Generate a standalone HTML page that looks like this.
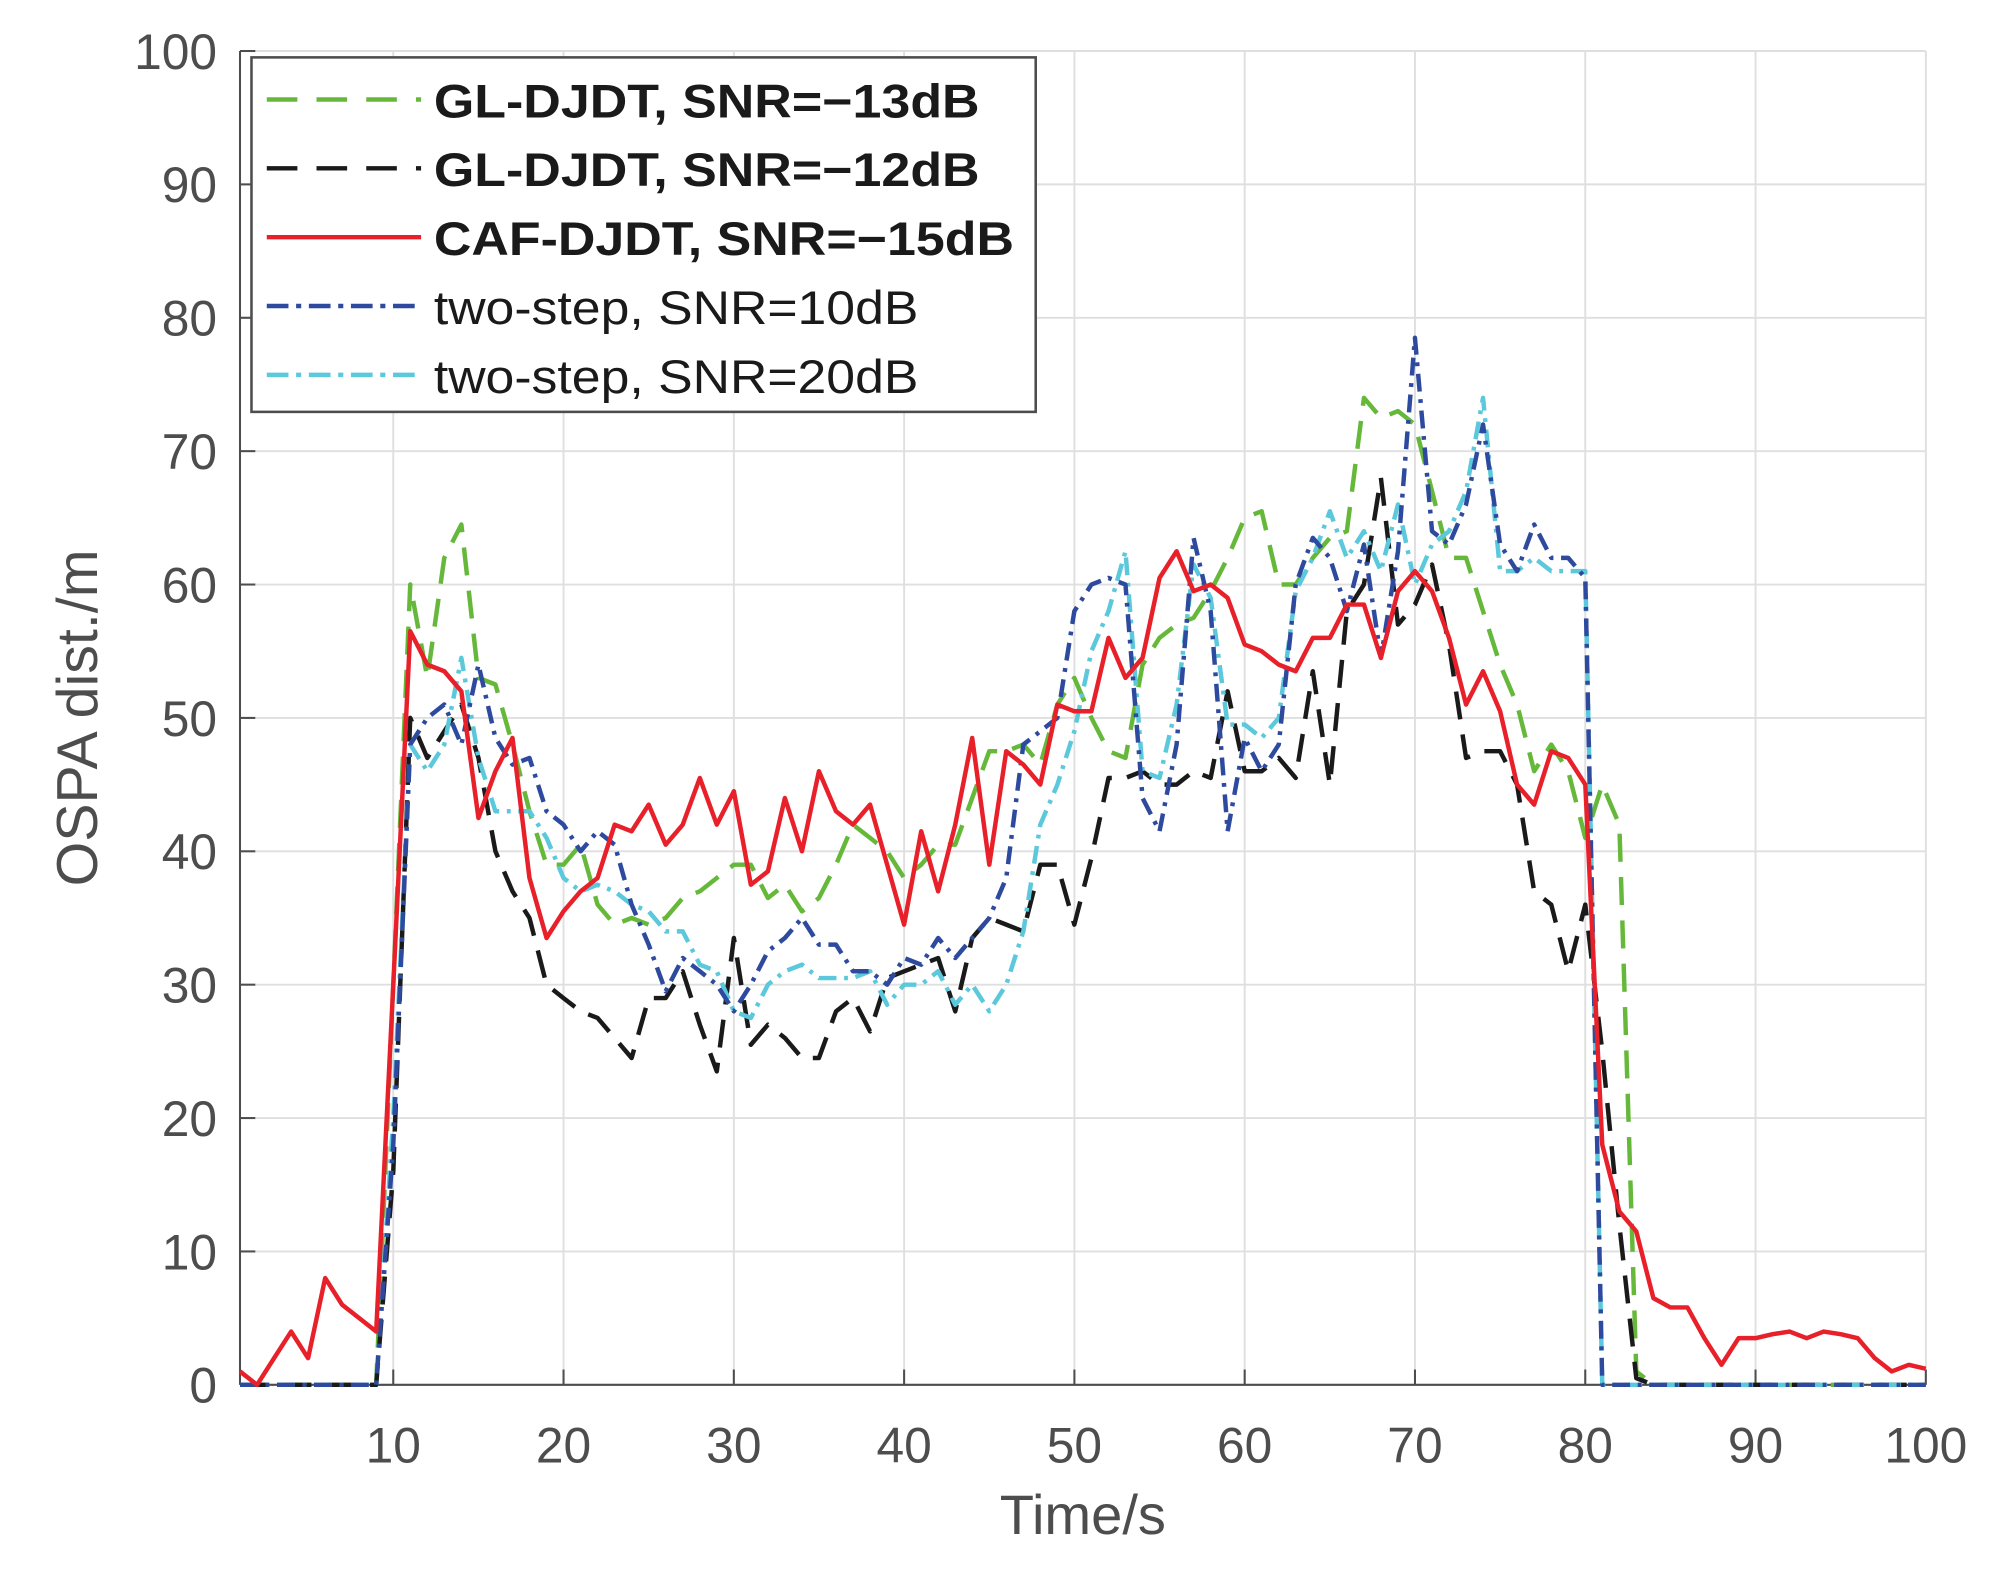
<!DOCTYPE html>
<html><head><meta charset="utf-8"><style>html,body{margin:0;padding:0;background:#fff}svg{display:block}</style></head>
<body>
<svg id="s" xmlns="http://www.w3.org/2000/svg" width="2000" height="1571" viewBox="0 0 1568 1232" font-family="Liberation Sans, sans-serif">
<rect x="0" y="0" width="1568" height="1232" fill="#fff"/>
<g id="grid" stroke="#dfdfdf" stroke-width="1.5"></g>
<g id="ticks" stroke="#4d4d4d" stroke-width="1.6"></g>
<line x1="188" y1="40" x2="188" y2="1086" stroke="#4d4d4d" stroke-width="1.6"/>
<line x1="188" y1="1086" x2="1510" y2="1086" stroke="#4d4d4d" stroke-width="1.6"/>
<g id="labels" fill="#4d4d4d" font-size="39"></g>
<g id="series" fill="none" stroke-width="3.5" stroke-linejoin="round"></g>
<text x="849" y="1203" font-size="44" fill="#4d4d4d" text-anchor="middle">Time/s</text>
<text transform="translate(76,563) rotate(-90)" font-size="45" fill="#4d4d4d" text-anchor="middle">OSPA dist./m</text>
<g>
<rect x="197" y="45" width="615" height="278" fill="#fff" stroke="#4d4d4d" stroke-width="2"/>
<line x1="209" y1="78" x2="330" y2="78" stroke="#66b83a" stroke-width="3.5" stroke-dasharray="24 15"/>
<line x1="209" y1="132" x2="330" y2="132" stroke="#1a1a1a" stroke-width="3.5" stroke-dasharray="24 15"/>
<line x1="209" y1="186" x2="330" y2="186" stroke="#e8202a" stroke-width="3.5"/>
<line x1="209" y1="240" x2="330" y2="240" stroke="#2e4a9e" stroke-width="3.5" stroke-dasharray="17 6 4 6"/>
<line x1="209" y1="294" x2="330" y2="294" stroke="#5bc8dc" stroke-width="3.5" stroke-dasharray="17 6 4 6"/>
<g font-size="37" fill="#1a1a1a">
<text x="340" y="92" font-weight="bold" textLength="428" lengthAdjust="spacingAndGlyphs">GL-DJDT, SNR=−13dB</text>
<text x="340" y="146" font-weight="bold" textLength="428" lengthAdjust="spacingAndGlyphs">GL-DJDT, SNR=−12dB</text>
<text x="340" y="200" font-weight="bold" textLength="455" lengthAdjust="spacingAndGlyphs">CAF-DJDT, SNR=−15dB</text>
<text x="340" y="254" textLength="380" lengthAdjust="spacingAndGlyphs">two-step, SNR=10dB</text>
<text x="340" y="308" textLength="380" lengthAdjust="spacingAndGlyphs">two-step, SNR=20dB</text>
</g>
</g>
</svg>
<script>
var NS="http://www.w3.org/2000/svg";
function X(t){return 188+(t-1)*13.354;}
function Y(v){return 1086-v*10.46;}
function el(p,tag,a,txt){var e=document.createElementNS(NS,tag);for(var k in a)e.setAttribute(k,a[k]);if(txt!==undefined)e.textContent=txt;document.getElementById(p).appendChild(e);}
for(var t=10;t<=100;t+=10){el('grid','line',{x1:X(t),x2:X(t),y1:40,y2:1086});el('ticks','line',{x1:X(t),x2:X(t),y1:1086,y2:1074});el('labels','text',{x:X(t),y:1147,'text-anchor':'middle'},t);}
for(var v=0;v<=100;v+=10){el('grid','line',{x1:188,x2:1510,y1:Y(v),y2:Y(v)});el('ticks','line',{x1:188,x2:200,y1:Y(v),y2:Y(v)});el('labels','text',{x:170,y:Y(v)+14,'text-anchor':'end'},v);}
function full(start,arr){var a=[];for(var i=1;i<start;i++)a.push(0);a=a.concat(arr);while(a.length<100)a.push(0);return a;}
var red=[1,0,2,4,2,8,6,5,4,30,56.5,54,53.5,52,42.5,46,48.5,38,33.5,35.5,37,38,42,41.5,43.5,40.5,42,45.5,42,44.5,37.5,38.5,44,40,46,43,42,43.5,39,34.5,41.5,37,42,48.5,39,47.5,46.5,45,51,50.5,50.5,56,53,54.5,60.5,62.5,59.5,60,59,55.5,55,54,53.5,56,56,58.5,58.5,54.5,59.5,61,59.5,56,51,53.5,50.5,45,43.5,47.5,47,45,18,13,11.5,6.5,5.8,5.8,3.5,1.5,3.5,3.5,3.8,4,3.5,4,3.8,3.5,2,1,1.5,1.2];
var green=full(10,[30,60,53,62,64.5,53,52.5,48,43,39,39,40.5,36,34.5,35,34.5,35,36.5,37,38,39,39,36.5,37.5,35.5,36.5,39,42,41,40,38,39,40.5,40.5,44,47.5,47.5,48,46.5,51,53,50,47.5,47,54,56,57,57.5,59.5,62,65,65.5,60,60,62,63.5,64,74,72.5,73,72,67,62,62,58,54,51,46,48,46,41,45,42,1]);
var black=full(10,[16,50,47,49,51,47,40,37,35,30,29,28,27.5,26,24.5,29,29,31,27,23.5,33.5,25.5,27,26,24.5,24.5,28,29,26.5,30.5,31,31.5,32,28,33.5,35,34.5,34,39,39,34.5,39.5,45.5,45.5,46,45,45,46,45.5,52,46,46,47,45.5,53.5,45,58,60,68,57,58.5,61.5,55.5,47,47.5,47.5,45,37,36,31,36,25,12,0.5]);
var blue=full(10,[18,48,50,51,48,54,48.5,46.5,47,43,42,40,41.5,40.5,36,33,29.5,32,31,30,28,30,32.5,33.5,35,33,33,31,31,30,32,31.5,33.5,32,33.5,35,38,48,49,50,58,60,60.5,60,44,41.5,48,63.5,58,41.5,48.5,46,48,60,63.5,62,58,63,54.5,62.5,78.5,64,63,66,72,63,61,64.5,62,62,60.5,0]);
var lblue=full(10,[20,48,46,48,54.5,47,43,43,43,41,38,37,37.5,37,36,35.5,34,34,31.5,31,28,27.5,30,31,31.5,30.5,30.5,30.5,31,28.5,30,30,31,28.5,30,28,30,34,42,45,49,55,58,62.5,46,45.5,51,61.5,59,49.5,49.5,48.5,50,59.5,62,65.5,62,64,61,66,60,63,64,67,74,61,61,62,61,61,61,0]);
function path(a,col,dash){var d='';for(var i=0;i<a.length;i++)d+=(i?'L':'M')+X(i+1).toFixed(1)+','+Y(a[i]).toFixed(1);var at={d:d,stroke:col};if(dash)at['stroke-dasharray']=dash;el('series','path',at);}
path(green,'#66b83a','22 12');
path(black,'#1a1a1a','22 12');
path(lblue,'#5bc8dc','14 6 3 6');
path(blue,'#2e4a9e','14 6 3 6');
path(red,'#e8202a');
</script>
</body></html>
